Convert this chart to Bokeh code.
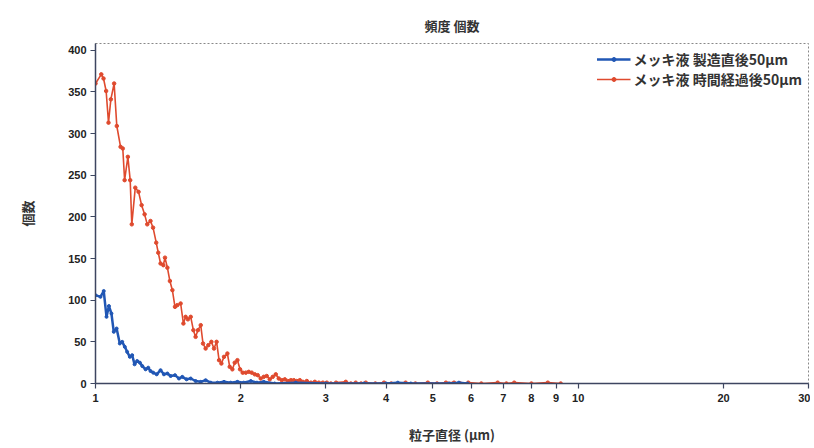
from bokeh.plotting import figure
from bokeh.models import FixedTicker, Range1d, Legend, LegendItem, Title
from bokeh.embed import file_html
from bokeh.resources import INLINE

# ---- data ----
title_text = "頻度 個数"
x_label = "粒子直径 (µm)"
y_label = "個数"
series_blue_name = "メッキ液 製造直後50µm"
series_red_name = "メッキ液 時間経過後50µm"

x_ticks = [1, 2, 3, 4, 5, 6, 7, 8, 9, 10, 20, 30]
y_ticks = [0, 50, 100, 150, 200, 250, 300, 350, 400]

red_x = [1.000, 1.028, 1.039, 1.052, 1.064, 1.076, 1.093, 1.107, 1.127, 1.139,
         1.149, 1.167, 1.180, 1.189, 1.209, 1.228, 1.246, 1.264, 1.280, 1.300,
         1.316, 1.336, 1.349, 1.364, 1.382, 1.393, 1.409, 1.426, 1.443, 1.461,
         1.477, 1.501, 1.521, 1.537, 1.554, 1.575, 1.595, 1.612, 1.630, 1.652,
         1.670, 1.691, 1.713, 1.738, 1.760, 1.782, 1.803, 1.823, 1.846, 1.876,
         1.897, 1.921, 1.943, 1.968, 1.993, 2.018, 2.048, 2.077, 2.107, 2.138,
         2.168, 2.199, 2.231, 2.263, 2.296, 2.329, 2.363, 2.397, 2.432, 2.467,
         2.502, 2.539, 2.575, 2.612, 2.650, 2.689, 2.740, 2.794, 2.847, 2.902,
         2.958, 3.015, 3.073, 3.15, 3.30, 3.38, 3.46, 3.55, 3.63, 3.80,
         3.96, 4.10, 4.39, 4.60, 4.88, 5.10, 5.32, 5.53, 5.70, 5.92,
         6.30, 6.81, 7.10, 7.37, 8.00, 8.65, 9.20]
red_y = [360, 371, 366, 351, 313, 341, 360, 309, 284, 282,
         244, 272, 244, 191, 235, 230, 214, 203, 191, 195,
         187, 169, 157, 144, 142, 151, 139, 123, 112, 92,
         94, 96, 72, 80, 77, 80, 64, 56, 64, 70,
         48, 42, 46, 50, 42, 50, 28, 24, 32, 36,
         20, 17, 25, 28, 17, 13, 13, 14, 13, 11,
         10, 6, 8, 9, 5, 8, 11, 6, 4, 5,
         3, 4, 4, 3, 4, 2, 3, 1, 2, 1,
         1, 1, 0, 1, 2, 0, 1, 0, 1, 0,
         1, 0, 1, 0, 1, 0, 1, 1, 0, 1,
         0, 1, 0, 1, 0, 1, 0]

blue_x = [1.000, 1.024, 1.040, 1.054, 1.066, 1.079, 1.091, 1.106, 1.123, 1.136,
          1.150, 1.163, 1.178, 1.191, 1.205, 1.220, 1.236, 1.250, 1.270, 1.286,
          1.300, 1.317, 1.339, 1.364, 1.386, 1.409, 1.431, 1.461, 1.489, 1.513,
          1.544, 1.575, 1.612, 1.652, 1.691, 1.733, 1.789, 1.846, 1.906, 1.968,
          2.028, 2.097, 2.160, 2.231, 2.35, 2.60, 3.00, 3.60, 4.00, 4.23,
          4.50, 5.40, 5.66, 5.90]
blue_y = [106, 104, 111, 80, 93, 84, 62, 66, 48, 50,
          44, 38, 32, 34, 23, 27, 25, 21, 17, 19,
          15, 13, 11, 16, 11, 12, 9, 10, 6, 8,
          5, 6, 3, 2, 4, 1, 1, 2, 1, 2,
          1, 3, 1, 2, 0, 1, 0, 0, 0, 1,
          0, 0, 1, 0]

RED = "#df4a2e"
BLUE = "#2157b5"
JP = "Noto Sans CJK JP"

p = figure(width=810, height=446, x_axis_type="log",
           x_range=Range1d(1, 30), y_range=Range1d(0, 408),
           output_backend="svg", toolbar_location=None,
           min_border_left=95, min_border_right=2, min_border_top=43, min_border_bottom=60,
           background_fill_color="white", border_fill_color="white")

# empty spacer title between the frame and the real title
p.add_layout(Title(text=" ", text_font_size="6px", standoff=0), "above")

p.title.text = title_text
p.title.align = "center"
p.title.text_font = JP
p.title.text_font_size = "13px"
p.title.text_font_style = "bold"
p.title.text_color = "#333333"
p.title.standoff = 2

p.outline_line_color = "#888888"
p.outline_line_dash = "2 2"
p.outline_line_width = 1

p.xgrid.visible = False
p.ygrid.visible = False

# axes
p.xaxis.ticker = FixedTicker(ticks=x_ticks)
p.xaxis.major_label_overrides = {t: str(t) for t in x_ticks}
p.yaxis.ticker = FixedTicker(ticks=y_ticks)
for ax in (p.xaxis[0], p.yaxis[0]):
    ax.axis_line_color = "#3d4660"
    ax.axis_line_width = 1.5
    ax.major_tick_line_color = "#3d4660"
    ax.major_tick_line_width = 1.2
    ax.major_tick_out = 5
    ax.major_tick_in = 0
    ax.minor_tick_out = 0
    ax.minor_tick_in = 0
    ax.major_label_text_font = "Liberation Sans"
    ax.major_label_text_font_style = "bold"
    ax.major_label_text_font_size = "11px"
    ax.major_label_text_color = "#222222"
    ax.axis_label_text_font = JP
    ax.axis_label_text_font_style = "bold"
    ax.axis_label_text_font_size = "13px"
    ax.axis_label_text_color = "#333333"

p.xaxis.axis_label = x_label
p.xaxis.axis_label_standoff = 20
p.xaxis.major_label_standoff = 5
p.yaxis.axis_label = y_label
p.yaxis.axis_label_standoff = 28
p.yaxis.major_label_standoff = 4

# series
r_line = p.line(red_x, red_y, line_color=RED, line_width=1.6)
r_pts = p.scatter(red_x, red_y, size=3.5, fill_color=RED, line_color=RED)
b_line = p.line(blue_x, blue_y, line_color=BLUE, line_width=2.5)
b_pts = p.scatter(blue_x, blue_y, size=3, fill_color=BLUE, line_color=BLUE)

legend = Legend(items=[
    LegendItem(label=series_blue_name, renderers=[b_line, b_pts]),
    LegendItem(label=series_red_name, renderers=[r_line, r_pts]),
], location="top_right")
legend.border_line_color = None
legend.background_fill_alpha = 0
legend.label_text_font = JP
legend.label_text_font_size = "14px"
legend.label_text_font_style = "bold"
legend.label_text_color = "#333333"
legend.glyph_width = 34
legend.glyph_height = 10
legend.label_height = 12
legend.spacing = -4
legend.padding = 0
legend.margin = 6
legend.label_standoff = 3
p.add_layout(legend)

open("out.html", "w").write(file_html(p, INLINE))
